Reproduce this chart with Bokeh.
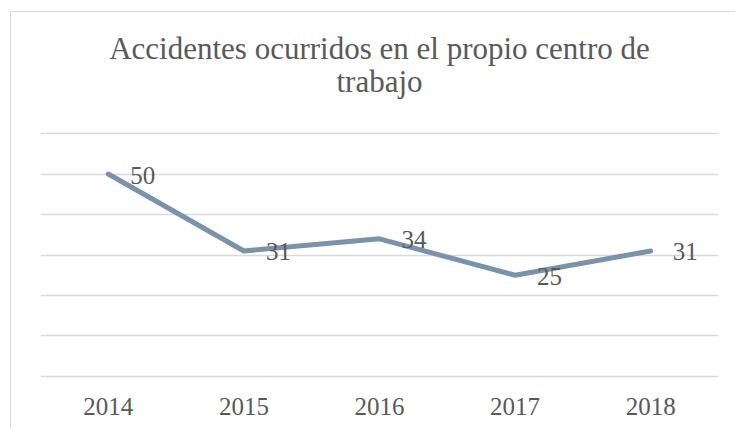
from bokeh.plotting import figure
from bokeh.models import ColumnDataSource, FixedTicker
from bokeh.core.properties import value
from bokeh.embed import file_html
from bokeh.resources import INLINE

years = ["2014", "2015", "2016", "2017", "2018"]
accidents = [50, 31, 34, 25, 31]
labels = [str(v) for v in accidents]
y_ticks = [0, 10, 20, 30, 40, 50, 60]
title_lines = ["Accidentes ocurridos en el propio centro de", "trabajo"]

TEXT = "#595959"
FONT = "Liberation Serif"

src = ColumnDataSource(dict(x=years, y=accidents, lab=labels))

# frame extends upward to hold the two-line centred title
p = figure(x_range=years, y_range=(-0.5, 89.9), width=725, height=417,
           output_backend="svg", toolbar_location=None,
           min_border_left=29, min_border_right=18, min_border_top=0,
           min_border_bottom=51)
p.margin = (12, 0, 0, 11)
p.styles = {"box-shadow": "-1px -1px 0 #d9d9d9"}
p.x_range.range_padding = 0
p.outline_line_color = None
p.title.visible = False

title_src = ColumnDataSource(dict(x=[years[2], years[2]], y=[81.05, 72.8],
                                  t=title_lines))
p.text("x", "y", text="t", source=title_src, text_align="center",
       text_baseline="middle", text_font=value(FONT),
       text_font_size="31px", text_color=TEXT)

p.line("x", "y", source=src, line_color="#7a93ab", line_width=5,
       line_join="round", line_cap="round")
p.text("x", "y", text="lab", source=src, x_offset=22, y_offset=1,
       text_align="left", text_baseline="middle", text_font=value(FONT),
       text_font_size="25px", text_color=TEXT)

p.yaxis.visible = False
p.ygrid.ticker = FixedTicker(ticks=y_ticks)
p.ygrid.grid_line_color = "#d9d9d9"
p.ygrid.grid_line_width = 1.5
p.xgrid.grid_line_color = None

p.xaxis.axis_line_color = None
p.xaxis.major_tick_line_color = None
p.xaxis.minor_tick_line_color = None
p.xaxis.major_label_text_font = FONT
p.xaxis.major_label_text_font_size = "25px"
p.xaxis.major_label_text_color = TEXT
p.xaxis.major_label_standoff = 13

open("out.html", "w").write(file_html(p, INLINE))
